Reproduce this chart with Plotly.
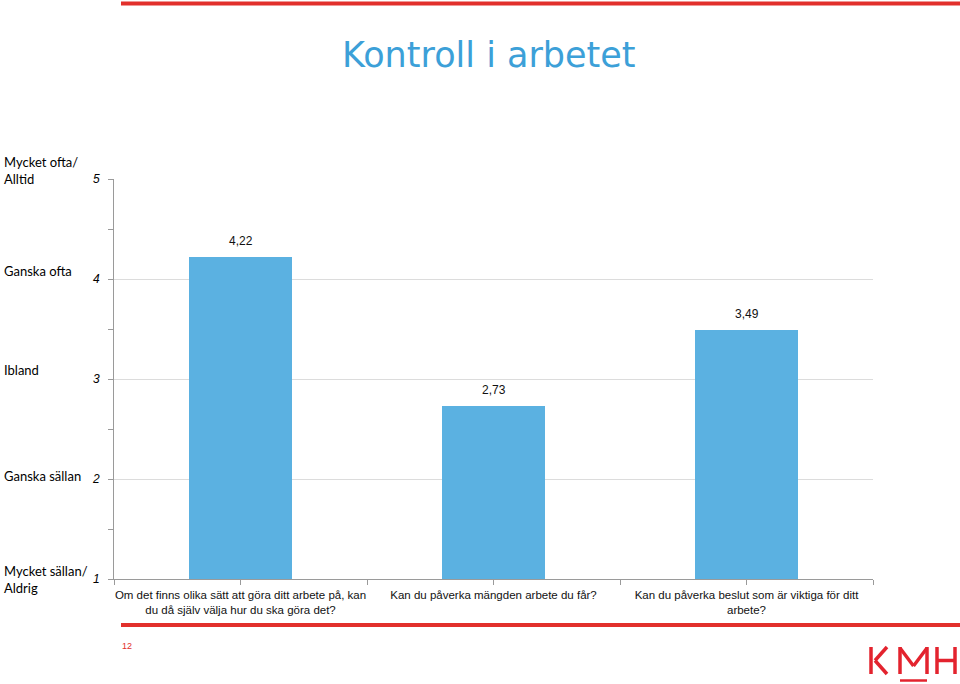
import plotly.graph_objects as go

# ---- data ----
categories = [
    "Om det finns olika sätt att göra ditt arbete på, kan<br>du då själv välja hur du ska göra det?",
    "Kan du påverka mängden arbete du får?",
    "Kan du påverka beslut som är viktiga för ditt<br>arbete?",
]
values = [4.22, 2.73, 3.49]
scale_values = [5, 4, 3, 2, 1]
scale_labels = ["Mycket ofta/<br>Alltid", "Ganska ofta", "Ibland", "Ganska sällan", "Mycket sällan/<br>Aldrig"]
scale_shift = [9, 8, 9, 3, 0]
title_text = "Kontroll i arbetet"
page_number = "12"

# ---- layout geometry (pixels) ----
W, H = 960, 684
L, R, T, B = 114, 87, 179, 105
PW, PH = W - L - R, H - T - B


def px(x):
    return (x - L) / PW


def py(y):
    return (H - B - y) / PH


BAR_COLOR = "#5BB1E1"
RED = "#E2302C"
GRID = "#DCDCDC"
AXIS = "#9A9A9A"

xs = list(range(len(categories)))

fig = go.Figure()
fig.add_trace(go.Bar(
    x=xs, y=values, width=0.405, marker=dict(color=BAR_COLOR, line=dict(width=0)),
    hoverinfo="skip", showlegend=False,
))

annotations = []
# value labels
for x, v in zip(xs, values):
    annotations.append(dict(
        x=x, y=v, xref="x", yref="y", text=f"{v:.2f}".replace(".", ","),
        showarrow=False, yanchor="bottom", yshift=7,
        font=dict(family="Liberation Sans, Arial, sans-serif", size=12, color="#111111"),
    ))
# scale labels on the left
for v, lab, s in zip(scale_values, scale_labels, scale_shift):
    annotations.append(dict(
        x=px(2), y=v, xref="paper", yref="y", text=lab, showarrow=False,
        xanchor="left", yanchor="middle", yshift=s, align="left",
        font=dict(family="Lato, 'Open Sans', sans-serif", size=13, color="#000000"),
    ))
# title
annotations.append(dict(
    x=px(489), y=py(55), xref="paper", yref="paper", text=title_text, showarrow=False,
    xanchor="center", yanchor="middle",
    font=dict(family="DejaVu Sans, Verdana, sans-serif", size=35, color="#3CA0D8"),
))
# page number
annotations.append(dict(
    x=px(127), y=py(646), xref="paper", yref="paper", text=page_number, showarrow=False,
    xanchor="center", yanchor="middle",
    font=dict(family="Liberation Sans, Arial, sans-serif", size=9, color=RED),
))

shapes = []


def seg(x0, y0, x1, y1, color=RED, width=3):
    shapes.append(dict(type="line", xref="paper", yref="paper",
                       x0=px(x0), y0=py(y0), x1=px(x1), y1=py(y1),
                       line=dict(color=color, width=width)))


# decorative red rules
seg(121, 3.5, 960, 3.5, width=4)
seg(121, 625, 960, 625, width=4)

# KMH logo
LOGO = "#E3232E"
seg(871, 647, 871, 674, LOGO, 3.5)
seg(887, 647, 875, 660.5, LOGO, 3.5)
seg(875, 660.5, 887, 674, LOGO, 3.5)
seg(900, 647, 900, 674, LOGO, 3.5)
seg(927, 647, 927, 674, LOGO, 3.5)
seg(900, 648, 913.5, 666, LOGO, 3.5)
seg(913.5, 666, 927, 648, LOGO, 3.5)
seg(937, 647, 937, 674, LOGO, 3.5)
seg(955, 647, 955, 674, LOGO, 3.5)
seg(937, 660.5, 955, 660.5, LOGO, 3.5)
seg(900, 680.5, 927, 680.5, LOGO, 2.5)

fig.update_layout(
    width=W, height=H,
    margin=dict(l=L, r=R, t=T, b=B, pad=0),
    paper_bgcolor="white", plot_bgcolor="white",
    annotations=annotations, shapes=shapes,
    bargap=0,
)
fig.update_xaxes(
    range=[-0.5, len(categories) - 0.5],
    tickvals=xs, ticktext=categories,
    showgrid=False, zeroline=False,
    showline=True, linecolor=AXIS, linewidth=1,
    ticks="outside", ticklen=5, tickcolor=AXIS,
    minor=dict(tickvals=[i - 0.5 for i in range(len(categories) + 1)],
               ticks="outside", ticklen=5, tickcolor=AXIS, showgrid=False),
    tickfont=dict(family="Liberation Sans, Arial, sans-serif", size=11.5, color="#111111"),
    fixedrange=True,
)
fig.update_yaxes(
    range=[1, 5],
    tickvals=scale_values, ticktext=[str(v) for v in scale_values],
    showgrid=True, gridcolor=GRID, gridwidth=1,
    zeroline=False,
    showline=True, linecolor=AXIS, linewidth=1,
    ticks="outside", ticklen=5, tickcolor=AXIS,
    minor=dict(tickvals=[1.5, 2.5, 3.5, 4.5], ticks="outside", ticklen=5,
               tickcolor=AXIS, showgrid=False),
    tickfont=dict(family="Liberation Sans, Arial, sans-serif", size=12, color="#000000",
                  style="italic"),
    ticklabelstandoff=6,
    fixedrange=True,
)

fig.write_html(
    "out.html",
    config=dict(displayModeBar=False),
    post_script="document.body.style.margin='0px';document.body.style.overflow='hidden';",
)
